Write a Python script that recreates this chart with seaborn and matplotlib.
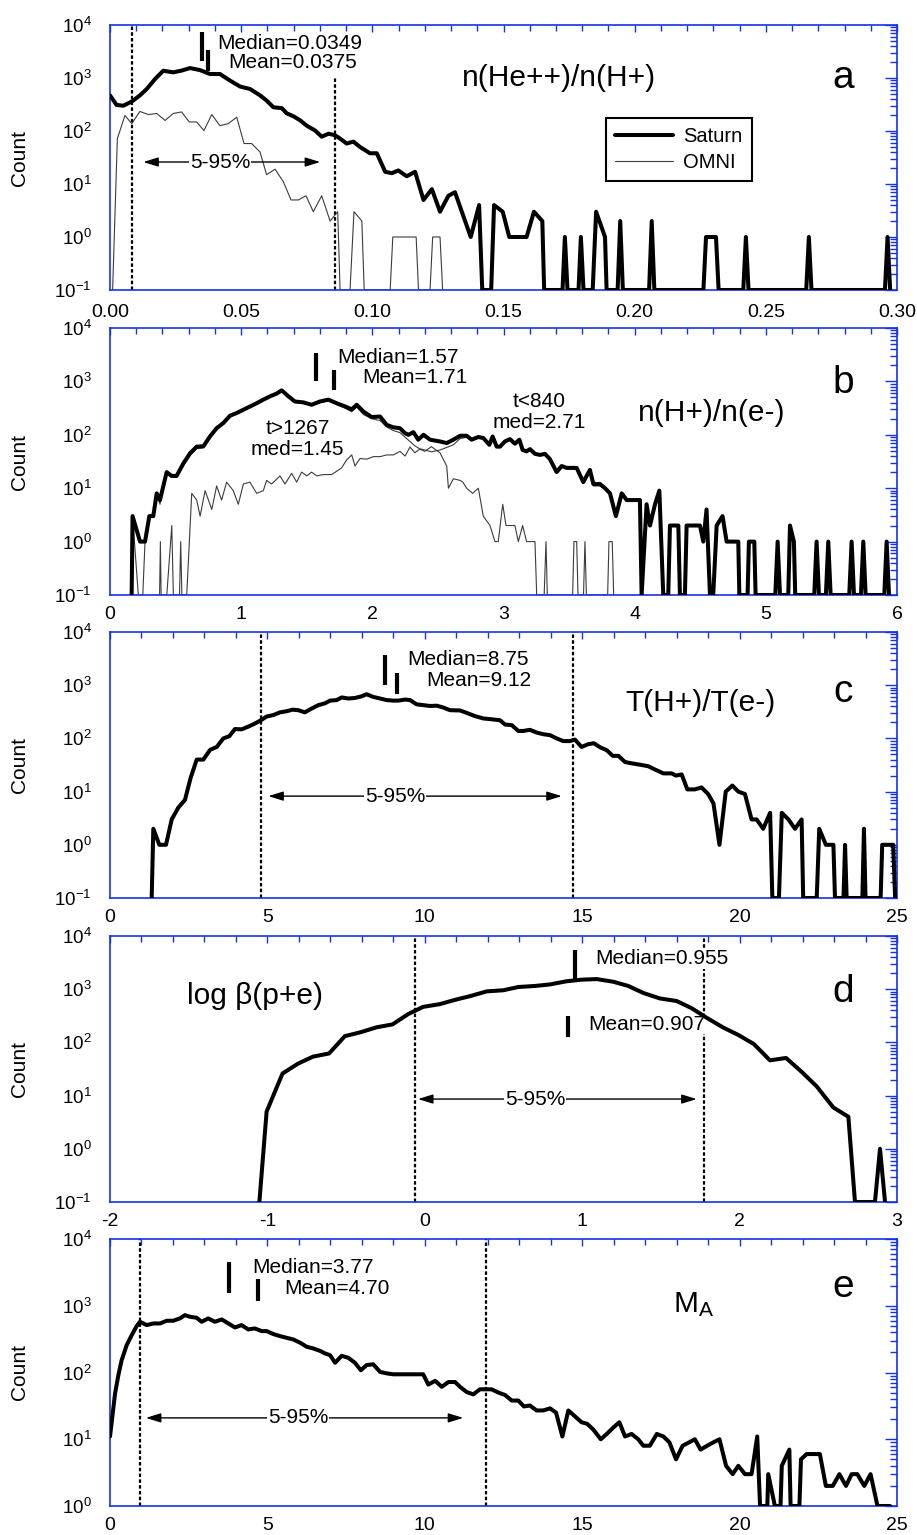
import numpy as np
import seaborn as sns
import matplotlib
matplotlib.use("Agg")
import matplotlib.pyplot as plt
from matplotlib.ticker import (LogLocator, LogFormatterMathtext, NullFormatter,
                               MultipleLocator, FuncFormatter)

# ---------------- Panel a : n(He++)/n(H+) ----------------
a_sat_x = [0.000, 0.0025, 0.0051, 0.0083, 0.0114, 0.0140, 0.0172, 0.0203, 0.0241, 0.0273,
           0.0305, 0.0343, 0.0381, 0.0419, 0.0458, 0.0496, 0.0534, 0.0572, 0.0597, 0.0623,
           0.0655, 0.0674, 0.0699, 0.0724, 0.0750, 0.0782, 0.0807, 0.0833, 0.0858, 0.0877,
           0.0902, 0.0928, 0.0953, 0.0991, 0.1017, 0.1049, 0.1074, 0.1099, 0.1131, 0.1163,
           0.1195, 0.1227, 0.1258, 0.1290, 0.1315, 0.1375, 0.1407, 0.1419, 0.1453, 0.1464,
           0.1497, 0.1522, 0.1588, 0.1616, 0.1648, 0.1655,
           0.1725, 0.1734, 0.1744, 0.1786, 0.1795, 0.1805, 0.1840, 0.1853, 0.1887, 0.1893,
           0.1935, 0.1945, 0.1955, 0.2055, 0.2065, 0.2075, 0.2262, 0.2272, 0.2310, 0.2320,
           0.2414, 0.2424, 0.2434, 0.2654, 0.2664, 0.2674, 0.2954, 0.2964, 0.2974]
a_sat_n = [470, 310, 300, 360, 470, 620, 960, 1370, 1280, 1380,
           1540, 1410, 1190, 1190, 890, 690, 620, 470, 375, 280,
           270, 215, 190, 160, 126, 102, 78, 89, 83, 72,
           58, 63, 50, 38, 38, 17, 16, 18, 14, 17,
           5, 8, 3, 6, 7, 1, 4, 0, 0, 4,
           3, 1, 1, 3, 2, 0,
           0, 1, 0, 0, 1, 0, 0, 3, 1, 0,
           0, 2, 0, 0, 2, 0, 0, 1, 1, 0,
           0, 1, 0, 0, 1, 0, 0, 1, 0]
a_omni_x = [0.0010, 0.0028, 0.0057, 0.0083, 0.0114, 0.0146, 0.0178, 0.0210, 0.0241, 0.0273,
            0.0302, 0.0330, 0.0358, 0.0388, 0.0419, 0.0451, 0.0483, 0.0511, 0.0540, 0.0572,
            0.0597, 0.0629, 0.0661, 0.0690, 0.0718, 0.0747, 0.0775, 0.0807, 0.0839, 0.0868,
            0.0877, 0.0915, 0.0930, 0.0960, 0.0969, 0.1068, 0.1078, 0.1167, 0.1176, 0.1220,
            0.1230, 0.1258, 0.1268]
a_omni_n = [0, 72, 196, 138, 234, 204, 214, 158, 214, 229,
            148, 148, 102, 204, 126, 138, 182, 58, 58, 40,
            15, 19, 11, 5, 5, 6, 3, 6, 2, 3,
            0, 0, 3, 2, 0, 0, 1, 1, 0, 0,
            1, 1, 0]

# ---------------- Panel b : n(H+)/n(e-) ----------------
b_sat_x = [0.165, 0.172, 0.229, 0.267, 0.300, 0.330, 0.356, 0.381, 0.432, 0.470,
           0.508, 0.559, 0.610, 0.661, 0.712, 0.762, 0.813, 0.864, 0.915, 0.966,
           1.017, 1.067, 1.118, 1.169, 1.220, 1.270, 1.309, 1.360, 1.410, 1.474,
           1.537, 1.600, 1.665, 1.728, 1.792, 1.843, 1.881, 1.932, 1.995, 2.059,
           2.110, 2.160, 2.210, 2.250, 2.275, 2.313, 2.350, 2.390, 2.440, 2.516,
           2.567, 2.618, 2.669, 2.719, 2.757, 2.808, 2.846, 2.892, 2.917, 2.948,
           2.973, 3.011, 3.049, 3.087, 3.121, 3.146, 3.176, 3.202, 3.240, 3.278,
           3.316, 3.354, 3.405, 3.443, 3.481, 3.558, 3.608, 3.659, 3.685, 3.735,
           3.774, 3.812, 3.857, 3.901, 3.939, 4.040, 4.053, 4.091, 4.117, 4.155,
           4.188, 4.218, 4.256, 4.269, 4.333, 4.345, 4.383, 4.396, 4.498, 4.523,
           4.548, 4.574, 4.599, 4.625, 4.670, 4.701, 4.790, 4.798, 4.861, 4.871,
           4.912, 4.922, 5.072, 5.090, 5.108, 5.171, 5.184, 5.214, 5.224, 5.369,
           5.387, 5.405, 5.458, 5.476, 5.494, 5.636, 5.654, 5.672, 5.725, 5.743,
           5.761, 5.903, 5.921, 5.939]
b_sat_n = [0, 3, 1, 1, 3, 3, 8, 6, 20, 17,
           17, 29, 45, 60, 61, 93, 133, 166, 228, 256,
           295, 340, 390, 455, 525, 590, 680, 525, 420, 405,
           365, 420, 455, 390, 340, 300, 365, 273, 215, 220,
           153, 138, 133, 107, 100, 112, 81, 100, 81, 75,
           70, 81, 96, 96, 81, 91, 87, 65, 93, 60,
           60, 75, 83, 68, 81, 52, 49, 54, 44, 42,
           44, 35, 20, 26, 24, 24, 13, 22, 12, 12,
           10, 8, 3, 8, 6, 6, 0, 5, 2, 5,
           9, 0, 0, 2, 2, 0, 0, 2, 2, 1,
           4, 0, 0, 2, 3, 1, 1, 0, 0, 1,
           1, 0, 0, 1, 0, 0, 2, 1, 0, 0,
           1, 0, 0, 1, 0, 0, 1, 0, 0, 1,
           0, 0, 1, 0]
b_late_x = [0.378, 0.384, 0.390, 0.433, 0.471, 0.483, 0.530, 0.539, 0.548, 0.585,
            0.623, 0.661, 0.687, 0.725, 0.776, 0.813, 0.851, 0.889, 0.940, 0.978,
            1.017, 1.067, 1.118, 1.169, 1.194, 1.232, 1.296, 1.334, 1.385, 1.423,
            1.461, 1.500, 1.537, 1.576, 1.627, 1.690, 1.766, 1.804, 1.843, 1.868,
            1.906, 1.957, 2.008, 2.059, 2.110, 2.160, 2.211, 2.250, 2.287, 2.325,
            2.360, 2.400, 2.450, 2.516, 2.567, 2.580, 2.618, 2.669, 2.690, 2.719,
            2.765, 2.808, 2.846, 2.897, 2.935, 2.960, 2.994, 3.019, 3.087, 3.113,
            3.146, 3.176, 3.240, 3.253, 3.310, 3.324, 3.334, 3.527, 3.537, 3.558,
            3.568, 3.610, 3.621, 3.632, 3.794, 3.804, 3.829, 3.840]
b_late_n = [0, 1, 0, 0, 2, 0, 0, 1, 0, 0,
            8, 6, 3, 9, 4, 11, 6, 13, 9, 5,
            12, 13, 8, 9, 14, 12, 17, 12, 19, 13,
            20, 17, 20, 17, 18, 18, 24, 34, 42, 26,
            36, 35, 39, 39, 42, 42, 49, 40, 59, 46,
            54, 49, 60, 46, 26, 10, 15, 14, 13, 10,
            8, 10, 3, 2, 1, 1, 5, 2, 2, 1,
            2, 1, 1, 0, 0, 1, 0, 0, 1, 1,
            0, 0, 1, 0, 0, 1, 1, 0]
b_early_x = [0.165, 0.172, 0.216, 0.250, 0.267, 0.300, 0.330, 0.356, 0.381, 0.432,
             0.470, 0.508, 0.559, 0.610, 0.661, 0.712, 0.762, 0.813, 0.864, 0.915,
             0.966, 1.017, 1.067, 1.118, 1.169, 1.220, 1.270, 1.309, 1.360, 1.410,
             1.474, 1.537, 1.600, 1.665, 1.728, 1.792, 1.843, 1.881, 1.932, 1.995,
             2.059, 2.110, 2.160, 2.210, 2.250, 2.287, 2.325, 2.360, 2.400, 2.450,
             2.516, 2.567, 2.618, 2.669, 2.719, 2.757, 2.808, 2.846, 2.892, 2.917,
             2.948, 2.973, 3.011, 3.049, 3.087, 3.121, 3.146, 3.176, 3.202, 3.240,
             3.278, 3.316, 3.354, 3.405, 3.443, 3.481, 3.558, 3.608, 3.659, 3.685,
             3.735, 3.774, 3.812, 3.857, 3.901, 3.939, 4.040, 4.053]
b_early_n = [0, 3, 0, 0, 1, 3, 3, 8, 5, 19,
             16, 16, 27, 41, 55, 57, 88, 126, 160, 220,
             250, 290, 330, 380, 445, 515, 580, 670, 510, 405,
             390, 350, 400, 435, 370, 315, 270, 330, 240, 200,
             185, 140, 120, 110, 90, 75, 62, 55, 52, 48,
             52, 58, 65, 85, 90, 80, 88, 85, 62, 92,
             60, 60, 75, 83, 68, 82, 52, 48, 54, 44,
             42, 44, 35, 20, 26, 24, 23, 13, 22, 11,
             11, 10, 8, 3, 8, 6, 6, 0]

# ---------------- Panel c : T(H+)/T(e-) ----------------
c_sat_x = [1.324, 1.376, 1.567, 1.779, 1.96, 2.17, 2.382, 2.56, 2.755, 2.966,
           3.18, 3.39, 3.6, 3.79, 3.97, 4.18, 4.39, 4.6, 4.79, 4.97,
           5.19, 5.4, 5.61, 5.8, 5.98, 6.19, 6.4, 6.62, 6.83, 6.99,
           7.2, 7.36, 7.57, 7.78, 7.99, 8.15, 8.36, 8.58, 8.79, 9.0,
           9.16, 9.37, 9.53, 9.74, 9.95, 10.17, 10.38, 10.59, 10.8, 11.12,
           11.33, 11.59, 11.86, 12.12, 12.39, 12.55, 12.76, 12.97, 13.13, 13.34,
           13.55, 13.76, 13.98, 14.19, 14.4, 14.61, 14.77, 14.98, 15.19, 15.37,
           15.57, 15.78, 15.97, 16.15, 16.36, 16.57, 16.84, 17.1, 17.31, 17.58,
           17.84, 17.98, 18.16, 18.34, 18.58, 18.79, 19.0, 19.17, 19.36, 19.56,
           19.77, 19.96, 20.17, 20.38, 20.54, 20.75, 20.97, 21.04, 21.25, 21.34,
           21.55, 21.76, 21.97, 22.02, 22.45, 22.53, 22.74, 22.98, 23.03, 23.30,
           23.35, 23.40, 23.90, 23.95, 24.00, 24.48, 24.53, 24.88, 24.94]
c_sat_n = [0, 2, 1, 1, 3, 5, 7, 18, 40, 40,
           61, 69, 100, 110, 150, 148, 166, 190, 219, 257,
           275, 309, 324, 347, 339, 309, 363, 422, 457, 513,
           525, 589, 562, 575, 617, 676, 603, 562, 525, 513,
           513, 537, 525, 437, 422, 407, 412, 380, 339, 335,
           302, 263, 237, 229, 219, 182, 178, 138, 138, 145,
           129, 120, 115, 100, 89, 89, 95, 69, 78, 81,
           68, 60, 47, 47, 36, 34, 32, 30, 26, 22,
           22, 20, 21, 11, 11, 12, 9, 6, 1, 10,
           13, 10, 9, 3, 3, 2, 4, 0, 0, 4,
           3, 2, 3, 0, 0, 2, 1, 1, 0, 0,
           1, 0, 0, 2, 0, 0, 1, 1, 0]

# ---------------- Panel d : log beta(p+e) ----------------
d_sat_x = [-1.051, -1.005, -0.904, -0.805, -0.710, -0.608, -0.508, -0.409, -0.307, -0.205,
           -0.106, -0.011, 0.095, 0.200, 0.287, 0.393, 0.499, 0.594, 0.700, 0.795,
           0.901, 0.996, 1.092, 1.198, 1.293, 1.388, 1.494, 1.600, 1.695, 1.791,
           1.896, 1.992, 2.091, 2.193, 2.295, 2.394, 2.489, 2.595, 2.691, 2.733,
           2.860, 2.892, 2.924]
d_sat_n = [0, 5, 26, 40, 54, 62, 131, 155, 192, 218,
           340, 465, 524, 640, 740, 910, 955, 1100, 1150, 1230,
           1410, 1510, 1550, 1380, 1150, 850, 670, 600, 440, 290,
           190, 138, 93, 46, 51, 28, 15, 6, 4, 0,
           0, 1, 0]

# ---------------- Panel e : M_A ----------------
e_sat_x = [0.0, 0.085, 0.159, 0.265, 0.37, 0.53, 0.69, 0.847, 0.953, 1.165,
           1.376, 1.588, 1.8, 2.01, 2.22, 2.38, 2.54, 2.75, 2.91, 3.12,
           3.33, 3.55, 3.76, 3.97, 4.18, 4.39, 4.6, 4.82, 4.98, 5.19,
           5.4, 5.61, 5.82, 6.04, 6.25, 6.46, 6.67, 6.83, 6.99, 7.15,
           7.36, 7.57, 7.78, 7.97, 8.15, 8.36, 8.58, 8.79, 9.0, 9.21,
           9.53, 9.95, 10.11, 10.33, 10.54, 10.75, 10.96, 11.12, 11.33, 11.54,
           11.75, 12.12, 12.34, 12.55, 12.76, 12.97, 13.15, 13.34, 13.55, 13.76,
           13.98, 14.17, 14.37, 14.56, 14.77, 14.98, 15.16, 15.35, 15.59, 15.78,
           15.99, 16.18, 16.36, 16.57, 16.78, 16.94, 17.15, 17.37, 17.58, 17.77,
           17.98, 18.19, 18.4, 18.58, 18.76, 18.97, 19.17, 19.36, 19.57, 19.78,
           19.96, 20.17, 20.38, 20.56, 20.65, 20.88, 20.91, 21.12, 21.30, 21.34,
           21.58, 21.62, 21.90, 21.95, 22.13, 22.55, 22.74, 22.96, 23.17, 23.38,
           23.56, 23.74, 23.96, 24.16, 24.38, 24.78]
e_sat_n = [11, 24, 48, 91, 153, 257, 363, 495, 575, 513,
           543, 543, 596, 596, 646, 724, 684, 661, 575, 646,
           575, 624, 543, 473, 513, 442, 457, 417, 417, 376,
           351, 331, 313, 279, 243, 229, 211, 193, 182, 140,
           178, 166, 140, 108, 129, 133, 102, 97, 94, 94,
           94, 94, 66, 75, 61, 72, 72, 61, 51, 47,
           56, 56, 50, 46, 38, 38, 31, 32, 27, 27,
           29, 25, 11, 27, 22, 18, 17, 14, 10, 12,
           15, 18, 11, 12, 10, 8, 8, 12, 11, 9,
           5, 8, 9, 10, 7, 8, 9, 10, 4, 3,
           4, 3, 3, 11, 0, 0, 3, 0, 0, 4,
           7, 0, 0, 5, 6, 6, 2, 2, 3, 2,
           3, 3, 2, 3, 1, 1]

# ---------------- statistics / annotations ----------------
labels = ["a", "b", "c", "d", "e"]
titles = ["n(He++)/n(H+)", "n(H+)/n(e-)", "T(H+)/T(e-)", "log \u03b2(p+e)", "M$_\\mathregular{A}$"]
medians = [0.0349, 1.57, 8.75, 0.955, 3.77]
means = [0.0375, 1.71, 9.12, 0.907, 4.70]
median_txt = ["Median=0.0349", "Median=1.57", "Median=8.75", "Median=0.955", "Median=3.77"]
mean_txt = ["Mean=0.0375", "Mean=1.71", "Mean=9.12", "Mean=0.907", "Mean=4.70"]
pct_lo = [0.0085, None, 4.80, -0.062, 0.953]
pct_hi = [0.0858, None, 14.72, 1.774, 11.94]
b_late_txt = "t>1267\nmed=1.45"
b_early_txt = "t<840\nmed=2.71"

# ---------------- styling ----------------
sns.set_style("white")
plt.rcParams['font.family'] = ['Liberation Sans', 'DejaVu Sans']
plt.rcParams['axes.unicode_minus'] = False
plt.rcParams['mathtext.fontset'] = 'custom'
plt.rcParams['mathtext.rm'] = 'Liberation Sans'
plt.rcParams['mathtext.it'] = 'Liberation Sans:italic'
plt.rcParams['text.color'] = 'black'
plt.rcParams['axes.labelcolor'] = 'black'
plt.rcParams['xtick.color'] = 'black'
plt.rcParams['ytick.color'] = 'black'

BLUE = '#1434e6'
THIN = '#3c3c3c'
fig = plt.figure(figsize=(9.17, 15.35), dpi=100)
FW, FH = 917.0, 1535.0
L, W = 110 / FW, 787 / FW


def make_ax(top, bottom):
    return fig.add_axes([L, 1 - bottom / FH, W, (bottom - top) / FH])


def floor(vals, ymin):
    v = np.asarray(vals, dtype=float)
    return np.where(v > 0, v, ymin)


def style(ax, xlim, ylim, xmaj, xmin, fmt, xpad=8):
    ax.set_yscale('log')
    ax.set_xlim(*xlim)
    ax.set_ylim(*ylim)
    ax.yaxis.set_major_locator(LogLocator(base=10, numticks=12))
    ax.yaxis.set_minor_locator(LogLocator(base=10, subs=np.arange(2, 10), numticks=12))
    ax.yaxis.set_major_formatter(LogFormatterMathtext())
    ax.yaxis.set_minor_formatter(NullFormatter())
    ax.xaxis.set_major_locator(MultipleLocator(xmaj))
    ax.xaxis.set_minor_locator(MultipleLocator(xmin))
    ax.xaxis.set_major_formatter(FuncFormatter(lambda v, p: fmt.format(v + 0.0)))
    ax.tick_params(which='both', direction='in', top=True, right=True,
                   color=BLUE, labelcolor='black')
    ax.tick_params(axis='y', which='major', length=9, width=1.0, labelsize=13.5, pad=13)
    ax.tick_params(axis='y', which='minor', length=5, width=1.0)
    ax.tick_params(axis='x', which='major', length=5, width=1.0, labelsize=14, pad=xpad)
    ax.tick_params(axis='x', which='minor', length=4, width=1.0)
    for s in ax.spines.values():
        s.set_color(BLUE)
        s.set_linewidth(1.2)
        s.set_visible(True)
    ax.set_xlabel('')
    ax.set_ylabel('Count', fontsize=15, color='black')
    ax.yaxis.set_label_coords(-0.103, 0.5)


def add_stats(ax, i, med_rng, mean_rng, med_pos, mean_pos):
    ax.vlines(medians[i], 10 ** med_rng[0], 10 ** med_rng[1], color='k', lw=3.0, zorder=4)
    ax.vlines(means[i], 10 ** mean_rng[0], 10 ** mean_rng[1], color='k', lw=3.0, zorder=4)
    tr = ax.get_xaxis_transform()
    bb = dict(facecolor='white', edgecolor='none', pad=0.3)
    ax.text(med_pos[0], med_pos[1], median_txt[i], transform=tr, fontsize=15,
            ha='left', va='center', bbox=bb, zorder=2)
    ax.text(mean_pos[0], mean_pos[1], mean_txt[i], transform=tr, fontsize=15,
            ha='left', va='center', bbox=bb, zorder=2)


def add_range(ax, i, ytop_hi=1.0, ytop_lo=1.0):
    ax.axvline(pct_lo[i], ymax=ytop_lo, color='k', lw=1.6, ls=(0, (1.6, 1.0)), zorder=1)
    ax.axvline(pct_hi[i], ymax=ytop_hi, color='k', lw=1.6, ls=(0, (1.6, 1.0)), zorder=1)


def add_arrow(ax, x0, x1, y, xt):
    tr = ax.get_xaxis_transform()
    ax.annotate('', xy=(x0, y), xytext=(x1, y), xycoords=tr, textcoords=tr,
                arrowprops=dict(arrowstyle='<|-|>,head_length=0.9,head_width=0.28',
                                color='k', lw=1.0, shrinkA=0, shrinkB=0), zorder=2)
    ax.text(xt, y, '5-95%', transform=tr, fontsize=15, ha='center', va='center',
            bbox=dict(facecolor='white', edgecolor='none', pad=0.5), zorder=3)


def add_titles(ax, i, tx, ty, lx, ly):
    tr = ax.get_xaxis_transform()
    ax.text(tx, ty, titles[i], transform=tr, fontsize=21.5, ha='left', va='center')
    ax.text(lx, ly, labels[i], transform=tr, fontsize=28, ha='center', va='center')


# ---------------- panel a ----------------
ax = make_ax(25, 290)
ya = 0.1
sns.lineplot(x=a_omni_x, y=floor(a_omni_n, ya), ax=ax, estimator=None, sort=False,
             color=THIN, linewidth=0.8, label='OMNI', zorder=2)
sns.lineplot(x=a_sat_x, y=floor(a_sat_n, ya), ax=ax, estimator=None, sort=False,
             color='k', linewidth=2.9, label='Saturn', zorder=3)
style(ax, (0, 0.3), (ya, 1e4), 0.05, 0.01, '{:.2f}', xpad=10)
add_range(ax, 0, ytop_hi=0.804)
add_stats(ax, 0, (3.325, 3.86), (3.14, 3.53), (0.0408, 0.932), (0.045, 0.857))
add_arrow(ax, 0.0127, 0.0801, 0.483, 0.0419)
add_titles(ax, 0, 0.1342, 0.80, 0.2794, 0.80)
h, l = ax.get_legend_handles_labels()
order = [l.index('Saturn'), l.index('OMNI')]
leg = ax.legend([h[k] for k in order], [l[k] for k in order], loc='upper left',
                bbox_to_anchor=(0.630, 0.649), borderaxespad=0, frameon=True,
                fancybox=False, edgecolor='k', framealpha=1, fontsize=14.5,
                handlelength=2.9, borderpad=0.45, labelspacing=0.35, handletextpad=0.5)
leg.get_frame().set_linewidth(1.5)
for t in leg.get_texts():
    t.set_color('black')

# ---------------- panel b ----------------
ax = make_ax(328, 595)
sns.lineplot(x=b_early_x, y=floor(b_early_n, ya), ax=ax, estimator=None, sort=False,
             color=THIN, linewidth=0.8, zorder=2)
sns.lineplot(x=b_late_x, y=floor(b_late_n, ya), ax=ax, estimator=None, sort=False,
             color=THIN, linewidth=0.8, zorder=2)
sns.lineplot(x=b_sat_x, y=floor(b_sat_n, ya), ax=ax, estimator=None, sort=False,
             color='k', linewidth=2.9, zorder=3)
style(ax, (0, 6), (ya, 1e4), 1, 0.2, '{:.0f}')
add_stats(ax, 1, (3.0, 3.53), (2.84, 3.22), (1.73, 0.891), (1.92, 0.813))
tr = ax.get_xaxis_transform()
ax.text(1.43, 0.584, b_late_txt, transform=tr, fontsize=15, ha='center', va='center',
        linespacing=1.15)
ax.text(3.27, 0.685, b_early_txt, transform=tr, fontsize=15, ha='center', va='center',
        linespacing=1.15)
add_titles(ax, 1, 4.025, 0.682, 5.588, 0.794)

# ---------------- panel c ----------------
ax = make_ax(632, 898)
sns.lineplot(x=c_sat_x, y=floor(c_sat_n, ya), ax=ax, estimator=None, sort=False,
             color='k', linewidth=2.9, zorder=3)
style(ax, (0, 25), (ya, 1e4), 5, 1, '{:.0f}')
add_range(ax, 2)
add_stats(ax, 2, (3.0, 3.56), (2.84, 3.22), (9.44, 0.895), (10.06, 0.816))
add_arrow(ax, 5.03, 14.35, 0.383, 9.06)
add_titles(ax, 2, 16.36, 0.733, 23.28, 0.774)

# ---------------- panel d ----------------
ax = make_ax(936, 1202)
sns.lineplot(x=d_sat_x, y=floor(d_sat_n, ya), ax=ax, estimator=None, sort=False,
             color='k', linewidth=2.9, zorder=3)
style(ax, (-2, 3), (ya, 1e4), 1, 0.2, '{:.0f}')
add_range(ax, 3)
add_stats(ax, 3, (3.17, 3.74), (2.11, 2.49), (1.081, 0.914), (1.037, 0.669))
add_arrow(ax, -0.043, 1.727, 0.387, 0.70)
add_titles(ax, 3, -1.511, 0.774, 2.657, 0.789)

# ---------------- panel e ----------------
ax = make_ax(1239, 1506)
ye = 1.0
sns.lineplot(x=e_sat_x, y=floor(e_sat_n, ye), ax=ax, estimator=None, sort=False,
             color='k', linewidth=2.9, zorder=3)
style(ax, (0, 25), (ye, 1e4), 5, 1, '{:.0f}')
add_range(ax, 4)
add_stats(ax, 4, (3.195, 3.66), (3.075, 3.395), (4.51, 0.895), (5.53, 0.816))
add_arrow(ax, 1.14, 11.22, 0.330, 5.98)
add_titles(ax, 4, 17.88, 0.753, 23.28, 0.820)

fig.savefig('out.png', dpi=100)
